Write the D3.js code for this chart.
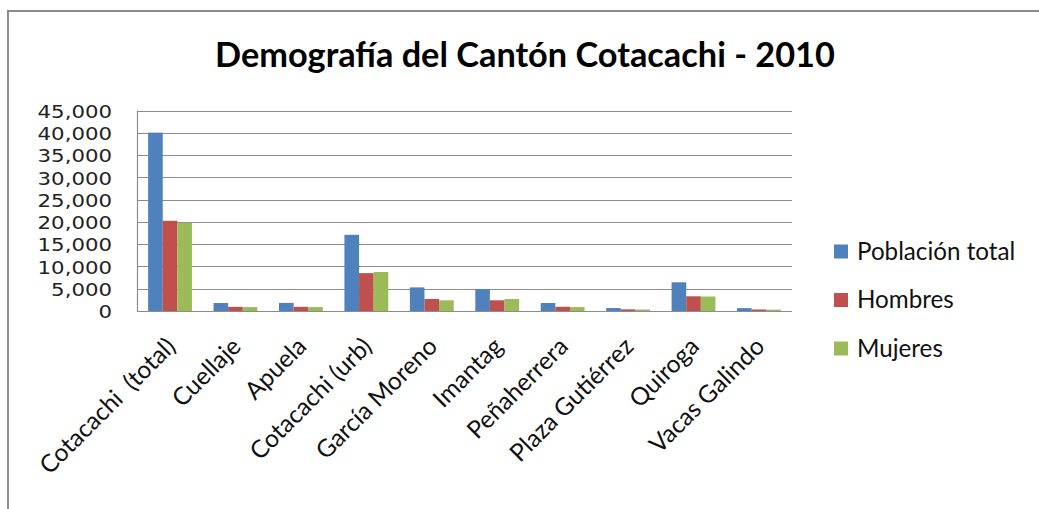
<!DOCTYPE html>
<html><head><meta charset="utf-8">
<script src="https://cdn.jsdelivr.net/npm/d3@7"></script>
<style>html,body{margin:0;padding:0;background:#fff;}svg{display:block;}</style>
</head><body>
<svg id="c" width="1039" height="509"></svg>
<script>
const categories = ["Cotacachi  (total)","Cuellaje","Apuela","Cotacachi (urb)","García Moreno","Imantag","Peñaherrera","Plaza Gutiérrez","Quiroga","Vacas Galindo"];
const seriesNames = ["Población total","Hombres","Mujeres"];
const poblacionTotal = [40036, 1790, 1820, 17100, 5300, 4940, 1800, 660, 6440, 640];
const hombres = [20250, 930, 940, 8500, 2700, 2400, 950, 370, 3300, 340];
const mujeres = [19790, 880, 880, 8750, 2400, 2700, 880, 330, 3250, 310];
const yTicks = [0,5000,10000,15000,20000,25000,30000,35000,40000,45000];
const colors = ["#4F81BD","#C0504D","#9BBB59"];
const title = "Demografía del Cantón Cotacachi - 2010";

const series = [poblacionTotal, hombres, mujeres];
const svg = d3.select("#c");
const m = {left:137, right:792, top:110.5, bottom:311};

// outer frame
svg.append("path").attr("d","M8,509 L8,11 L1039,11").attr("fill","none").attr("stroke","#8c8c8c").attr("stroke-width",2);

svg.append("text").attr("x",525).attr("y",67).attr("text-anchor","middle")
  .attr("font-family","Lato, 'Open Sans', sans-serif").attr("font-weight","bold").attr("font-size",34.3)
  .attr("fill","#000").text(title);

const x0 = d3.scaleBand().domain(categories).range([m.left,m.right]).paddingInner(0.33).paddingOuter(0.17);
const x1 = d3.scaleBand().domain(seriesNames).range([0,x0.bandwidth()]);
const y = d3.scaleLinear().domain([0,45000]).range([m.bottom,m.top]);

// gridlines
svg.append("g").selectAll("line").data(yTicks).join("line")
  .attr("x1",m.left).attr("x2",m.right).attr("y1",d=>Math.round(y(d))+0.5).attr("y2",d=>Math.round(y(d))+0.5)
  .attr("stroke","#8c8c8c").attr("stroke-width",1.2);
// left axis line
svg.append("line").attr("x1",m.left+0.5).attr("x2",m.left+0.5).attr("y1",y(45000)).attr("y2",y(0)+0.5).attr("stroke","#8c8c8c").attr("stroke-width",1.2);

// bars
const g = svg.append("g");
categories.forEach((c,i)=>{
  series.forEach((s,j)=>{
    g.append("rect").attr("x",x0(c)+x1(seriesNames[j])).attr("width",x1.bandwidth())
      .attr("y",y(s[i])).attr("height",y(0)-y(s[i])).attr("fill",colors[j]);
  });
});
// redraw axis baseline
svg.append("line").attr("x1",m.left).attr("x2",m.right).attr("y1",Math.round(y(0))+0.5).attr("y2",Math.round(y(0))+0.5).attr("stroke","#8c8c8c").attr("stroke-width",1.2);

// y axis labels
const yAxis = d3.axisLeft(y).tickValues(yTicks).tickSize(0).tickPadding(0).tickFormat(d3.format(","));
const ya = svg.append("g").attr("transform",`translate(${112},0)`).call(yAxis);
ya.select(".domain").remove();
ya.selectAll(".tick text").attr("x",0).attr("font-family","'DejaVu Sans', Verdana, sans-serif").attr("font-size",18.5)
  .attr("fill","#222").attr("dy","0.36em").attr("transform","scale(1.15,1)");

// x labels
const xl = svg.append("g");
categories.forEach(c=>{
  const cx = x0(c)+x0.bandwidth()/2 + 7;
  xl.append("text").attr("transform",`translate(${cx},${348}) rotate(-45)`)
    .attr("text-anchor","end").attr("font-family","Lato, 'Open Sans', sans-serif").attr("font-size",24.5)
    .attr("fill","#111").attr("xml:space","preserve").style("white-space","pre").text(c);
});

// legend
const lg = svg.append("g");
seriesNames.forEach((n,j)=>{
  const cy = 251.5 + j*48.5;
  lg.append("rect").attr("x",834).attr("y",cy-7).attr("width",14).attr("height",14).attr("fill",colors[j]);
  lg.append("text").attr("x",857).attr("y",cy).attr("dy","0.35em").attr("font-family","Lato, 'Open Sans', sans-serif")
    .attr("font-size",24.2).attr("fill","#111").text(n);
});
</script>
</body></html>
